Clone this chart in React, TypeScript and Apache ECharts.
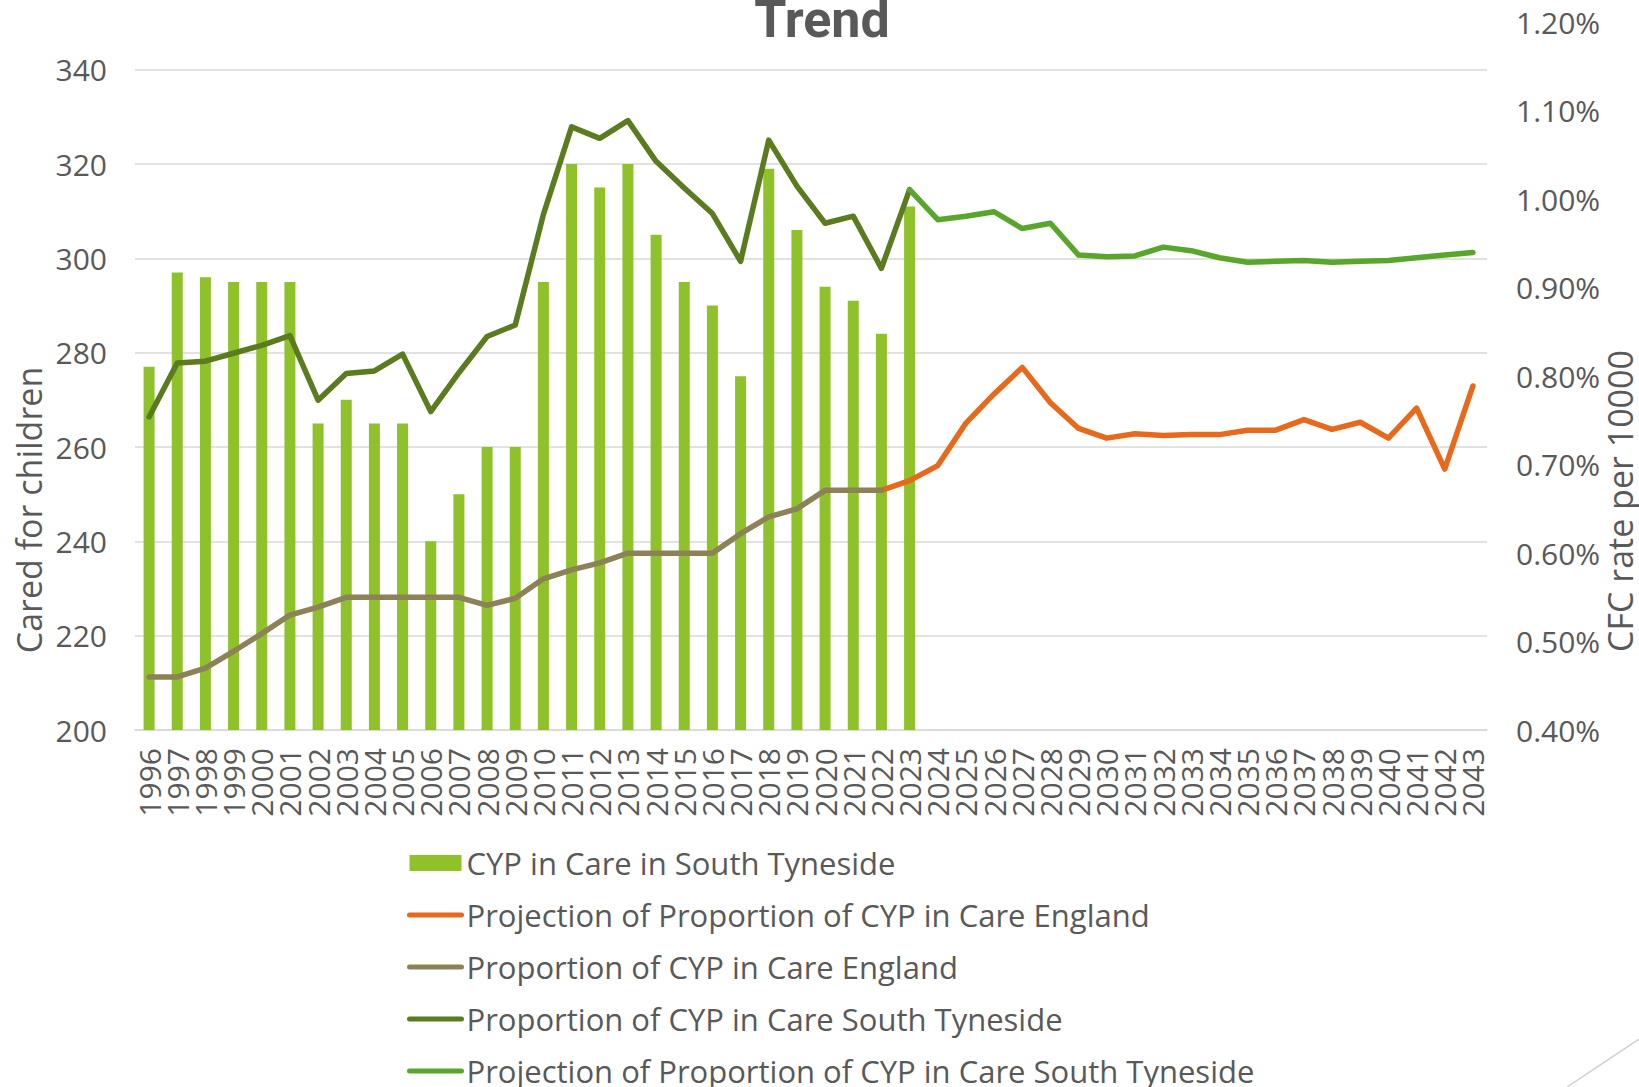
import React, { useEffect, useRef } from "react";
import * as echarts from "echarts";

const years = [
  "1996", "1997", "1998", "1999", "2000", "2001", "2002", "2003", "2004", "2005",
  "2006", "2007", "2008", "2009", "2010", "2011", "2012", "2013", "2014", "2015",
  "2016", "2017", "2018", "2019", "2020", "2021", "2022", "2023", "2024", "2025",
  "2026", "2027", "2028", "2029", "2030", "2031", "2032", "2033", "2034", "2035",
  "2036", "2037", "2038", "2039", "2040", "2041", "2042", "2043",
];

// CYP in care in South Tyneside, 1996-2023
const cypInCare = [
  277, 297, 296, 295, 295, 295, 265, 270, 265, 265, 240, 250, 260, 260, 295,
  320, 315, 320, 305, 295, 290, 275, 319, 306, 294, 291, 284, 311,
];

// Proportion (%) England, 1996-2022
const englandProp = [
  0.46, 0.46, 0.47, 0.489, 0.509, 0.53, 0.539, 0.55, 0.55, 0.55, 0.55, 0.55,
  0.541, 0.549, 0.571, 0.581, 0.589, 0.6, 0.6, 0.6, 0.6, 0.622, 0.641, 0.65,
  0.671, 0.671, 0.671,
];

// Projection (%) England, 2022-2043
const englandProjection = [
  0.671, 0.682, 0.699, 0.747, 0.78, 0.81, 0.77, 0.741, 0.73, 0.735, 0.733,
  0.734, 0.734, 0.739, 0.739, 0.751, 0.74, 0.748, 0.73, 0.764, 0.695, 0.789,
];

// Proportion (%) South Tyneside, 1996-2023
const stProp = [
  0.754, 0.815, 0.817, 0.826, 0.835, 0.846, 0.773, 0.803, 0.806, 0.825, 0.76,
  0.804, 0.845, 0.858, 0.983, 1.082, 1.069, 1.089, 1.043, 1.013, 0.984, 0.93,
  1.067, 1.015, 0.973, 0.981, 0.922, 1.011,
];

// Projection (%) South Tyneside, 2023-2043
const stProjection = [
  1.011, 0.977, 0.981, 0.986, 0.967, 0.973, 0.937, 0.935, 0.936, 0.946, 0.942,
  0.934, 0.929, 0.93, 0.931, 0.929, 0.93, 0.931, 0.934, 0.937, 0.94,
];

const seriesNames = [
  "CYP in Care in South Tyneside",
  "Projection of Proportion of CYP in Care England",
  "Proportion of CYP in Care England",
  "Proportion of CYP in Care South Tyneside",
  "Projection of Proportion of CYP in Care South Tyneside",
];

const seriesColors = ["#8FC12A", "#E8691C", "#8C8257", "#5A7B1E", "#58A62B"];

function place(startYear: string, values: number[]) {
  const start = years.indexOf(startYear);
  return years.map((_, i) =>
    i >= start && i - start < values.length ? values[i - start] : null
  );
}

const FONT = "'Open Sans', 'Noto Sans', sans-serif";
const TEXT = "#595959";

export default function App() {
  const ref = useRef<HTMLDivElement>(null);
  useEffect(() => {
    document.body.style.margin = "0";
    if (!ref.current) return;
    const chart = echarts.init(ref.current, undefined, { renderer: "svg" });
    const lineSeries = (idx: number, startYear: string, values: number[]) => ({
      type: "line" as const,
      name: seriesNames[idx],
      yAxisIndex: 1,
      symbol: "none",
      connectNulls: false,
      itemStyle: { color: seriesColors[idx] },
      lineStyle: {
        color: seriesColors[idx],
        width: 5.5,
        join: "round",
        cap: "round",
      },
      data: place(startYear, values),
    });
    chart.setOption({
      animation: false,
      backgroundColor: "#ffffff",
      textStyle: { fontFamily: FONT },
      grid: {
        left: 135,
        right: 152,
        top: 22.5,
        bottom: 357,
        outerBoundsMode: "none",
      },
      legend: {
        orient: "vertical",
        left: 407,
        top: 846,
        height: 320,
        padding: 0,
        itemWidth: 52,
        itemHeight: 16,
        itemGap: 18,
        textStyle: {
          fontSize: 31,
          color: TEXT,
          fontFamily: FONT,
          lineHeight: 34,
        },
        lineStyle: { width: 5, cap: "round" },
        data: [
          { name: seriesNames[0], icon: "rect" },
          { name: seriesNames[1], itemStyle: { opacity: 0 } },
          { name: seriesNames[2], itemStyle: { opacity: 0 } },
          { name: seriesNames[3], itemStyle: { opacity: 0 } },
          { name: seriesNames[4], itemStyle: { opacity: 0 } },
        ],
      },
      xAxis: {
        type: "category",
        data: years,
        boundaryGap: true,
        axisTick: { show: false },
        axisLine: { lineStyle: { color: "#d9d9d9", width: 1.5 } },
        axisLabel: {
          interval: 0,
          rotate: 90,
          fontSize: 30,
          color: TEXT,
          fontFamily: FONT,
          margin: 18,
        },
      },
      yAxis: [
        {
          type: "value",
          min: 200,
          max: 350,
          interval: 20,
          axisLine: { show: false },
          axisTick: { show: false },
          axisLabel: {
            fontSize: 30,
            color: TEXT,
            fontFamily: FONT,
            margin: 28,
            showMaxLabel: false,
          },
          splitLine: {
            show: true,
            showMaxLine: false,
            lineStyle: { color: "#d9d9d9", width: 1.5 },
          },
        },
        {
          type: "value",
          min: 0.4,
          max: 1.2,
          interval: 0.1,
          position: "right",
          axisLine: { show: false },
          axisTick: { show: false },
          splitLine: { show: false },
          axisLabel: {
            fontSize: 30,
            color: TEXT,
            fontFamily: FONT,
            margin: 29,
            formatter: (v: number) => v.toFixed(2) + "%",
          },
        },
      ],
      series: [
        {
          name: seriesNames[0],
          type: "bar",
          yAxisIndex: 0,
          barWidth: 11,
          itemStyle: { color: seriesColors[0] },
          data: place("1996", cypInCare),
        },
        lineSeries(1, "2022", englandProjection),
        lineSeries(2, "1996", englandProp),
        lineSeries(3, "1996", stProp),
        lineSeries(4, "2023", stProjection),
      ],
      graphic: [
        {
          type: "text",
          x: 822,
          y: 19,
          style: {
            text: "Trend",
            fontSize: 52,
            fontWeight: "bold",
            fontFamily: "Roboto, 'Open Sans', sans-serif",
            fill: TEXT,
            align: "center",
            verticalAlign: "middle",
            textAlign: "center",
            textVerticalAlign: "middle",
          },
        },
        {
          type: "text",
          x: 29,
          y: 510,
          rotation: Math.PI / 2,
          style: {
            text: "Cared for children",
            fontSize: 34,
            fontFamily: FONT,
            fill: TEXT,
            align: "center",
            verticalAlign: "middle",
            textAlign: "center",
            textVerticalAlign: "middle",
          },
        },
        {
          type: "text",
          x: 1620,
          y: 501,
          rotation: Math.PI / 2,
          style: {
            text: "CFC rate per 10000",
            fontSize: 34,
            fontFamily: FONT,
            fill: TEXT,
            align: "center",
            verticalAlign: "middle",
            textAlign: "center",
            textVerticalAlign: "middle",
          },
        },
        {
          type: "line",
          shape: { x1: 1567, y1: 1087, x2: 1639, y2: 1039 },
          style: { stroke: "#d0d0d0", lineWidth: 1.5 },
        },
      ],
    });
    return () => chart.dispose();
  }, []);
  return <div ref={ref} style={{ width: 1639, height: 1087 }} />;
}
